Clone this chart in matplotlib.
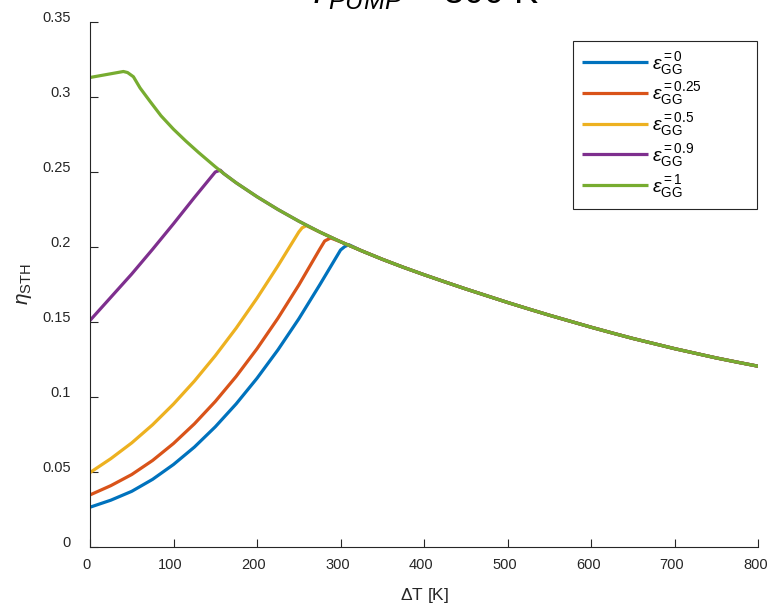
import matplotlib
matplotlib.use("Agg")
import matplotlib.pyplot as plt
import matplotlib.transforms as mtransforms
from matplotlib.patches import Rectangle
import numpy as np

plt.rcParams["font.family"] = ["Liberation Sans", "DejaVu Sans"]
plt.rcParams["mathtext.fontset"] = "custom"
plt.rcParams["mathtext.rm"] = "Liberation Sans"
plt.rcParams["mathtext.it"] = "Liberation Sans:italic"
plt.rcParams["mathtext.bf"] = "Liberation Sans:bold"
plt.rcParams["mathtext.fallback"] = "stixsans"

# rising branch of each curve, before it meets the common envelope
dT_e0 = [0, 25, 50, 75, 100, 125, 150, 175, 200, 225, 250, 275, 300, 305, 310]
eta_e0 = [0.0265, 0.0312, 0.0371, 0.0451, 0.0550, 0.0666, 0.0801, 0.0954, 0.1125,
          0.1314, 0.1521, 0.1747, 0.1980, 0.2003, 0.2015]

dT_e025 = [0, 25, 50, 75, 100, 125, 150, 175, 200, 225, 250, 275, 281, 288]
eta_e025 = [0.0347, 0.0409, 0.0483, 0.0577, 0.0690, 0.0821, 0.0970, 0.1137, 0.1322,
            0.1525, 0.1746, 0.1985, 0.2040, 0.2060]

dT_e05 = [0, 25, 50, 75, 100, 125, 150, 175, 200, 225, 250, 254, 259]
eta_e05 = [0.0496, 0.0589, 0.0694, 0.0815, 0.0953, 0.1106, 0.1275, 0.1459, 0.1659,
           0.1874, 0.2100, 0.2128, 0.2142]

dT_e09 = [0, 25, 50, 75, 100, 125, 150, 156]
eta_e09 = [0.151, 0.1665, 0.182, 0.1985, 0.2155, 0.233, 0.2500, 0.2512]

dT_e1 = [0, 40, 45, 52, 60, 72, 85, 100, 115, 130, 150]
eta_e1 = [0.313, 0.317, 0.3163, 0.3135, 0.306, 0.297, 0.2875, 0.2785, 0.2705,
          0.263, 0.2535]

# shared envelope that all curves follow at large dT
dT_env = [160, 175, 200, 225, 250, 275, 300, 325, 350, 375, 400, 425, 450, 475,
          500, 525, 550, 575, 600, 625, 650, 675, 700, 725, 750, 775, 800]
eta_env = [0.249, 0.2428, 0.2335, 0.2250, 0.2172, 0.2100, 0.2035, 0.1975, 0.1918,
           0.1865, 0.1815, 0.1767, 0.1720, 0.1675, 0.1630, 0.1587, 0.1545, 0.1505,
           0.1465, 0.1427, 0.1390, 0.1356, 0.1322, 0.1291, 0.1260, 0.1232, 0.1205]

labels = ["=0", "=0.25", "=0.5", "=0.9", "=1"]
colors = ["#0072BD", "#D95319", "#EDB120", "#7E2F8E", "#77AC30"]

xticks = [0, 100, 200, 300, 400, 500, 600, 700, 800]
yticks = [0, 0.05, 0.1, 0.15, 0.2, 0.25, 0.3, 0.35]
ytick_labels = ["0", "0.05", "0.1", "0.15", "0.2", "0.25", "0.3", "0.35"]


def join_envelope(x, y):
    env_x = np.array(dT_env)
    env_y = np.array(eta_env)
    keep = env_x > x[-1]
    return np.concatenate([x, env_x[keep]]), np.concatenate([y, env_y[keep]])


fig = plt.figure(figsize=(7.69, 6.06), dpi=100)
ax = fig.add_axes([0.117, 0.0974, 0.869, 0.8663])

series = [(dT_e0, eta_e0), (dT_e025, eta_e025), (dT_e05, eta_e05),
          (dT_e09, eta_e09), (dT_e1, eta_e1)]
for (x, y), lab, c in zip(series, labels, colors):
    xx, yy = join_envelope(np.array(x, float), np.array(y, float))
    ax.plot(xx, yy, color=c, lw=2.3, solid_joinstyle="round",
            solid_capstyle="butt",
            label=r"$\epsilon_{\rm GG}^{\rm " + lab + "}$")

ax.set_xlim(0, 800)
ax.set_ylim(0, 0.35)
ax.set_xticks(xticks)
ax.set_yticks(yticks)
ax.set_yticklabels(ytick_labels)
ax.spines["top"].set_visible(False)
ax.spines["right"].set_visible(False)
for s in ("left", "bottom"):
    ax.spines[s].set_color("#262626")
    ax.spines[s].set_linewidth(0.8)
ax.tick_params(direction="in", length=5.5, width=0.8, color="#262626",
               labelcolor="#262626", labelsize=10.5)
ax.tick_params(axis="y", pad=14)
ax.tick_params(axis="x", pad=8)

# tick labels sit a little off their ticks
up = mtransforms.ScaledTranslation(0, 5 / 100, fig.dpi_scale_trans)
left = mtransforms.ScaledTranslation(-3 / 100, 0, fig.dpi_scale_trans)
for t in ax.get_yticklabels():
    t.set_transform(t.get_transform() + up)
for t in ax.get_xticklabels():
    t.set_transform(t.get_transform() + left)

ax.set_xlabel(r"$\Delta$T [K]", fontsize=12.5, color="#262626", labelpad=10)
ax.set_ylabel(r"$\eta_{\rm STH}$", fontsize=15, color="#262626", labelpad=6)

# legend box drawn separately so it can be wider than its entries
ax.add_patch(Rectangle((0.723, 0.644), 0.2755, 0.3198, transform=ax.transAxes,
                       facecolor="white", edgecolor="#262626", lw=0.8,
                       zorder=4, clip_on=False))
leg = ax.legend(loc="upper left", bbox_to_anchor=(0.723, 0.9638),
                fontsize=14, handlelength=3.4, handletextpad=0.2,
                labelspacing=0.2, borderpad=0.45, frameon=False,
                borderaxespad=0)
leg.set_zorder(5)
for line in leg.get_lines():
    line.set_linewidth(2.3)

fig.text(306 / 769, 1 - 3 / 606, r"$T_{PUMP}$ = 300 K", fontsize=26,
         va="baseline", ha="left", color="black")

fig.savefig("out.png", dpi=100)
